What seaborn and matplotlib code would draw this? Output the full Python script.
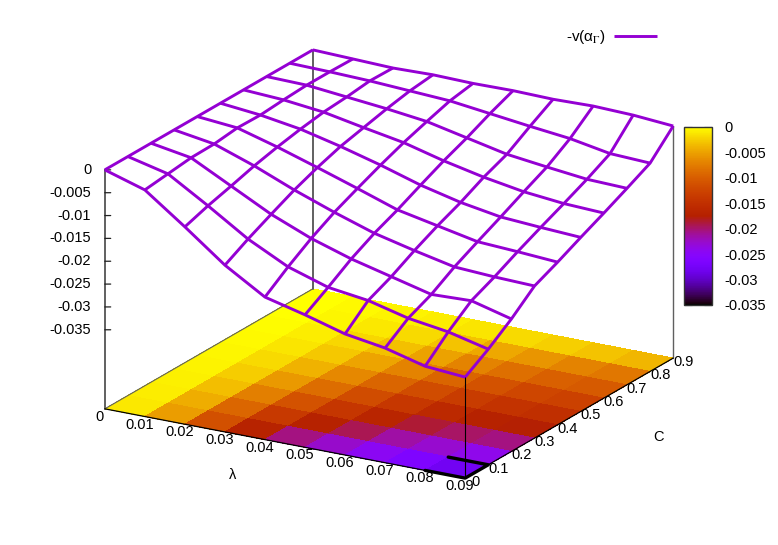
import numpy as np
import matplotlib
matplotlib.use("Agg")
import matplotlib.pyplot as plt
import seaborn as sns
from matplotlib.colors import Normalize
from matplotlib.cm import ScalarMappable
from matplotlib.transforms import ScaledTranslation
from mpl_toolkits.mplot3d import proj3d

lam = [0, 0.01, 0.02, 0.03, 0.04, 0.05, 0.06, 0.07, 0.08, 0.09]
cost = [0, 0.1, 0.2, 0.3, 0.4, 0.5, 0.6, 0.7, 0.8, 0.9]

# -v(alpha_gamma), one list per lambda, running over C
v_l0 = [0, 0, 0, 0, 0, 0, 0, 0, 0, 0]
v_l1 = [-.0027, -.0021, -.0015, -.0014, -.0008, -.0009, -.0005, -.0002, -.0002, -.0003]
v_l2 = [-.0091, -.0074, -.0060, -.0045, -.0033, -.0023, -.0015, -.0011, -.0005, -.0006]
v_l3 = [-.0158, -.0130, -.0105, -.0081, -.0061, -.0044, -.0032, -.0020, -.0010, -.0004]
v_l4 = [-.0211, -.0174, -.0141, -.0113, -.0090, -.0068, -.0048, -.0031, -.0015, -.0006]
v_l5 = [-.0233, -.0202, -.0169, -.0142, -.0120, -.0095, -.0071, -.0050, -.0026, -.0005]
v_l6 = [-.0258, -.0214, -.0191, -.0163, -.0138, -.0116, -.0090, -.0069, -.0037, -.0007]
v_l7 = [-.0272, -.0236, -.0213, -.0182, -.0156, -.0131, -.0105, -.0080, -.0047, -.0005]
v_l8 = [-.0295, -.0249, -.0210, -.0187, -.0161, -.0137, -.0114, -.0090, -.0063, -.0008]
v_l9 = [-.0302, -.0270, -.0233, -.0190, -.0167, -.0142, -.0118, -.0093, -.0067, -.0015]

z_ticks = [0, -0.005, -0.01, -0.015, -0.02, -0.025, -0.03, -0.035]
z_labels = ["0", "-0.005", "-0.01", "-0.015", "-0.02", "-0.025", "-0.03", "-0.035"]
x_labels = ["0", "0.01", "0.02", "0.03", "0.04", "0.05", "0.06", "0.07", "0.08", "0.09"]
y_labels = ["0", "0.1", "0.2", "0.3", "0.4", "0.5", "0.6", "0.7", "0.8", "0.9"]
z_floor = -0.0523

sns.set_theme(style="white", rc={"axes.unicode_minus": False, "mathtext.fontset": "stix"})
plt.rcParams["font.family"] = ["Liberation Sans", "DejaVu Sans"]

wire_color = "#9400d3"
label_size = 10.5
cmap = sns.color_palette("gnuplot", as_cmap=True)
norm = Normalize(-0.035, 0)

Z = np.array([v_l0, v_l1, v_l2, v_l3, v_l4, v_l5, v_l6, v_l7, v_l8, v_l9]).T
X, Y = np.meshgrid(lam, cost)

fig = plt.figure(figsize=(7.78, 5.45), dpi=100)
ax = fig.add_axes([69.6 / 778, -38.4 / 545, 622 / 778, 622 / 545], projection="3d", proj_type="ortho")
ax.view_init(elev=19.45, azim=-60)
ax.set_box_aspect((1, 1, 0.609))
ax.computed_zorder = False
ax.patch.set_alpha(0)

ax.set_xlim(0, 0.09, view_margin=0)
ax.set_ylim(0, 0.9, view_margin=0)
ax.set_zlim(z_floor, 0, view_margin=0)

# pm3d at base: one flat colour per cell, mean of the corners
cells = (Z[:-1, :-1] + Z[1:, :-1] + Z[:-1, 1:] + Z[1:, 1:]) / 4
ax.plot_surface(X, Y, np.full_like(Z, z_floor), facecolors=cmap(norm(cells)), shade=False,
                linewidth=0, antialiased=False, zorder=1)

# the box edges
grey = "#606060"
ax.plot([0, 0], [0.9, 0.9], [z_floor, 0], color=grey, lw=1.4, zorder=2)
ax.plot([0.09, 0.09], [0.9, 0.9], [z_floor, v_l9[-1]], color=grey, lw=1.0, zorder=2)
ax.plot([0, 0], [0, 0.9], [z_floor, z_floor], color=grey, lw=0.8, zorder=2)
ax.plot([0, 0], [0, 0], [z_floor, 0], color=grey, lw=1.4, zorder=2)
ax.plot([0.09, 0.09], [0, 0], [z_floor, v_l9[0]], color="black", lw=0.8, zorder=2)
ax.plot([0, 0.09, 0.09], [0, 0, 0.9], [z_floor, z_floor, z_floor], color="black", lw=0.9, zorder=2)

# z ticks point to the right on screen, so they run along both base directions
for t in z_ticks:
    ax.plot([0, 0.0011], [0, 0.0065], [t, t], color="#222222", lw=0.9, zorder=2)

# thick corner piece at the front
ax.plot([0.08, 0.09, 0.09, 0.08], [0, 0, 0.1, 0.1], [z_floor] * 4, color="black", lw=2.4, zorder=3)

ax.plot_wireframe(X, Y, Z, rstride=1, cstride=1, color=wire_color, lw=2.1, zorder=4, label=r"-v(α$_\Gamma$)")

for axis in (ax.xaxis, ax.yaxis, ax.zaxis):
    axis.set_pane_color((1, 1, 1, 0))
    axis.pane.set_edgecolor((1, 1, 1, 0))
    axis.line.set_color((1, 1, 1, 0))
    axis._axinfo["grid"]["linewidth"] = 0
    axis._axinfo["tick"]["inward_factor"] = 0
    axis._axinfo["tick"]["outward_factor"] = 0
ax.grid(False)

ax.set_xticks(lam)
ax.set_yticks(cost)
ax.set_zticks(z_ticks)
ax.set_xticklabels([])
ax.set_yticklabels([])
ax.set_zticklabels([])


def tick_text(x, y, z, s, dx, dy, ha="center"):
    # label next to a 3d point, dx and dy in pixels at 100 dpi
    px, py, _ = proj3d.proj_transform(x, y, z, ax.get_proj())
    shift = ScaledTranslation(dx / 100, dy / 100, fig.dpi_scale_trans)
    ax.text2D(px, py, s, fontsize=label_size, color="black", ha=ha, va="center", transform=ax.transData + shift)


for v, s in zip(lam, x_labels):
    tick_text(v, 0, z_floor, s, -5.5, -8)
for v, s in zip(cost, y_labels):
    tick_text(0.09, v, z_floor, s, 10, -4)
for v, s in zip(z_ticks, z_labels):
    tick_text(0, 0, v, s, -13.5, 0, ha="right")

fig.text(233 / 778, 1 - 475 / 545, "λ", fontsize=label_size, ha="center", va="center", color="black")
fig.text(659 / 778, 1 - 437 / 545, "C", fontsize=label_size, ha="center", va="center", color="black")

ax.legend(loc="center right", bbox_to_anchor=(657 / 778, 1 - 37 / 545), bbox_transform=fig.transFigure,
          frameon=False, markerfirst=False, fontsize=11, handlelength=2.8, handletextpad=0.55, borderpad=0,
          borderaxespad=0, labelcolor="black")

cax = fig.add_axes([684 / 778, 1 - 305 / 545, 28 / 778, 178 / 545])
cb = fig.colorbar(ScalarMappable(norm=norm, cmap=cmap), cax=cax)
cb.set_ticks(z_ticks)
cb.set_ticklabels(z_labels)
cax.tick_params(axis="y", direction="in", left=True, right=True, length=6, width=0.8, color="black",
                labelsize=label_size, labelcolor="black", pad=9)
cb.outline.set_edgecolor("#333333")
cb.outline.set_linewidth(1.0)

fig.savefig("out.png", dpi=100)
